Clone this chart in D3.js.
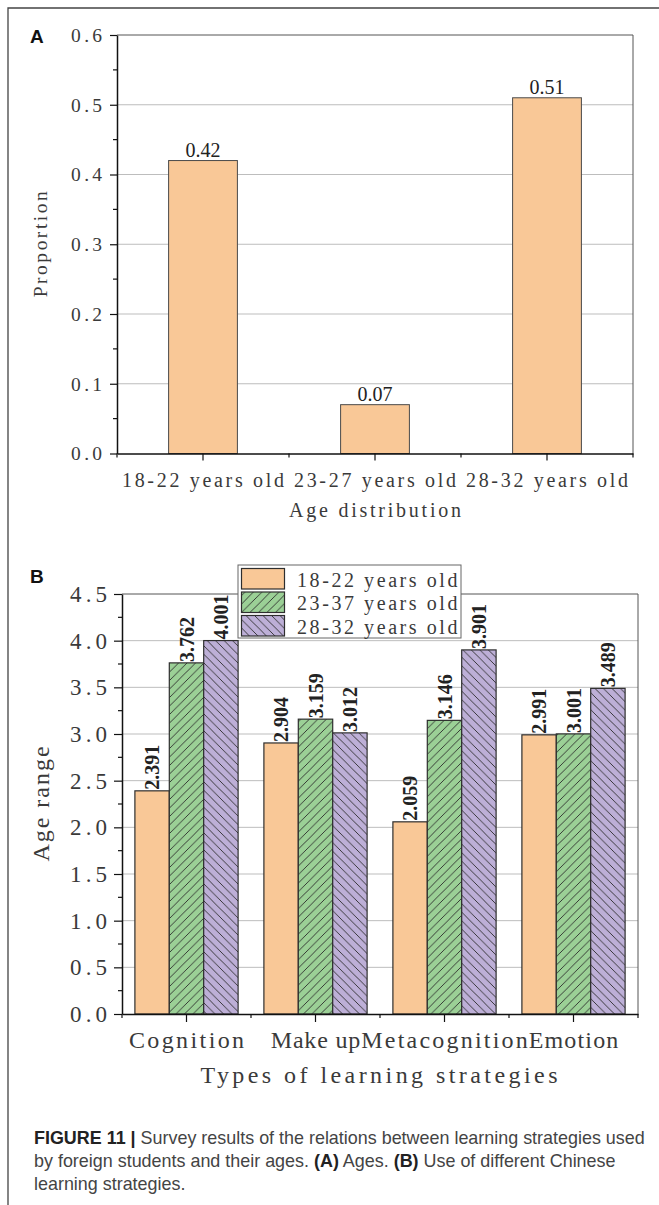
<!DOCTYPE html>
<html>
<head>
<meta charset="utf-8">
<script src="https://cdn.jsdelivr.net/npm/d3@7"></script>
<style>
  html, body { margin: 0; padding: 0; background: #fff; }
  svg { display: block; }
</style>
</head>
<body>
<svg id="chart" width="659" height="1205"></svg>
<script>
// ---------- Data ----------
const ageCategories = ["18-22 years old", "23-27 years old", "28-32 years old"];
const ageValues = [0.42, 0.07, 0.51];
const ageTickValues = [0, 0.1, 0.2, 0.3, 0.4, 0.5, 0.6];

const strategies = ["Cognition", "Make up", "Metacognition", "Emotion"];
const seriesNames = ["18-22 years old", "23-37 years old", "28-32 years old"];
const series1822 = [2.391, 2.904, 2.059, 2.991];
const series2337 = [3.762, 3.159, 3.146, 3.001];
const series2832 = [4.001, 3.012, 3.901, 3.489];
const strategyTickValues = [0, 0.5, 1, 1.5, 2, 2.5, 3, 3.5, 4, 4.5];

const captionLines = [
  [["FIGURE 11 | ", true], ["Survey results of the relations between learning strategies used", false]],
  [["by foreign students and their ages. ", false], ["(A)", true], [" Ages. ", false], ["(B)", true], [" Use of different Chinese", false]],
  [["learning strategies.", false]]
];

// ---------- Styles ----------
const SERIF = "'Liberation Serif', 'DejaVu Serif', serif";
const SANS = "'Liberation Sans', Arial, sans-serif";
const cOrange = "#F9C897", cGreen = "#9BD096", cPurple = "#BDAFD7";
const gridCol = "#BDBDBD", frameCol = "#555", txtCol = "#3a3a3a";

// SimSun-like fixed pitch rendering with a serif face
function pitched(sel, size, pitch) {
  sel.attr("font-family", SERIF).attr("font-size", size).attr("fill", txtCol)
    .each(function () {
      const n = this.textContent.length;
      d3.select(this).attr("textLength", n * pitch).attr("lengthAdjust", "spacing");
    });
}

const svg = d3.select("#chart");
const defs = svg.append("defs");

function hatch(id, fill, dir) {
  const s = 8.5;
  const p = defs.append("pattern").attr("id", id)
    .attr("patternUnits", "userSpaceOnUse").attr("width", s).attr("height", s);
  p.append("rect").attr("width", s).attr("height", s).attr("fill", fill);
  const d = dir > 0
    ? `M-2,${s + 2} L${s + 2},-2 M-2,2 L2,-2 M${s - 2},${s + 2} L${s + 2},${s - 2}`
    : `M-2,-2 L${s + 2},${s + 2} M-2,${s - 2} L2,${s + 2} M${s - 2},-2 L${s + 2},2`;
  p.append("path").attr("d", d).attr("stroke", "#2b2b2b").attr("stroke-width", 0.9);
}
hatch("hG", cGreen, 1);
hatch("hP", cPurple, -1);
const seriesFill = [cOrange, "url(#hG)", "url(#hP)"];

// ---------- Outer frame ----------
svg.append("path").attr("d", "M8,1205 L8,8 L659,8")
  .attr("fill", "none").attr("stroke", "#444").attr("stroke-width", 1.3);

// =========== Panel A ===========
const aL = 117, aR = 633, aT = 35, aB = 453.5;
const xA = d3.scaleBand().domain(ageCategories).range([aL, aR]);
const yA = d3.scaleLinear().domain([0, 0.6]).range([aB, aT]);
const gA = svg.append("g");

gA.selectAll("line.grid").data(ageTickValues.filter(v => v > 0 && v < 0.6)).enter()
  .append("line").attr("x1", aL).attr("x2", aR)
  .attr("y1", d => yA(d)).attr("y2", d => yA(d))
  .attr("stroke", gridCol).attr("stroke-width", 1);
gA.append("path").attr("d", `M${aL},${yA(0.6)} L${aR},${yA(0.6)} L${aR},${aB}`)
  .attr("fill", "none").attr("stroke", frameCol).attr("stroke-width", 1);

const bwA = xA.bandwidth();
gA.selectAll("rect.bar").data(ageValues).enter().append("rect")
  .attr("x", (d, i) => xA(ageCategories[i]) + bwA * 0.3)
  .attr("width", bwA * 0.4)
  .attr("y", d => yA(d)).attr("height", d => aB - yA(d))
  .attr("fill", cOrange).attr("stroke", "#4a4a4a").attr("stroke-width", 1);
gA.selectAll("text.val").data(ageValues).enter().append("text")
  .attr("x", (d, i) => xA(ageCategories[i]) + bwA / 2)
  .attr("y", d => yA(d) - 4)
  .attr("text-anchor", "middle").attr("font-family", SERIF).attr("font-size", 20)
  .attr("fill", "#222").text(d => d.toFixed(2));

const yAxisA = d3.axisLeft(yA).tickValues(ageTickValues).tickFormat(d3.format(".1f")).tickSize(7).tickSizeOuter(0);
const gyA = gA.append("g").attr("transform", `translate(${aL},0)`).call(yAxisA);
gyA.select(".domain").attr("stroke", "#111").attr("stroke-width", 1.5);
gyA.selectAll(".tick line").attr("stroke", "#111").attr("stroke-width", 1.2);
gyA.selectAll(".tick text").call(pitched, 19.5, 10.3).attr("x", -15);
gA.selectAll("line.ymin").data(d3.range(0.05, 0.6, 0.1)).enter().append("line")
  .attr("x1", aL - 4).attr("x2", aL).attr("y1", d => yA(d)).attr("y2", d => yA(d))
  .attr("stroke", "#111").attr("stroke-width", 1.2);

const xAxisA = d3.axisBottom(xA).tickSize(7).tickSizeOuter(0);
const gxA = gA.append("g").attr("transform", `translate(0,${aB})`).call(xAxisA);
gxA.select(".domain").attr("stroke", "#111").attr("stroke-width", 1.5);
gxA.selectAll(".tick line").attr("stroke", "#111").attr("stroke-width", 1.2);
gxA.selectAll(".tick text").call(pitched, 20, 10.8).attr("y", 33).attr("dy", 0);
gA.selectAll("line.xmin").data(ageCategories.concat(["end"])).enter().append("line")
  .attr("x1", (d, i) => aL + i * xA.step()).attr("x2", (d, i) => aL + i * xA.step())
  .attr("y1", aB).attr("y2", aB + 4).attr("stroke", "#111").attr("stroke-width", 1.2);

gA.append("text").attr("x", (aL + aR) / 2).attr("y", 517).attr("text-anchor", "middle")
  .text("Age distribution").call(pitched, 20, 10.75);
gA.append("text").attr("transform", `translate(47,${(aT + aB) / 2}) rotate(-90)`).attr("text-anchor", "middle")
  .text("Proportion").call(pitched, 19.5, 10.6);
gA.append("text").attr("x", 30).attr("y", 43).attr("font-family", SANS).attr("font-weight", "bold")
  .attr("font-size", 19).attr("fill", "#111").text("A");

// =========== Panel B ===========
const bL = 122, bR = 638, bT = 594, bB = 1014;
const xB = d3.scaleBand().domain(strategies).range([bL, bR]);
const xSub = d3.scaleBand().domain(seriesNames).range([0, xB.bandwidth() * 0.8]);
const yB = d3.scaleLinear().domain([0, 4.5]).range([bB, bT]);
const gB = svg.append("g");

gB.selectAll("line.grid").data(strategyTickValues.filter(v => v > 0 && v < 4.5)).enter()
  .append("line").attr("x1", bL).attr("x2", bR)
  .attr("y1", d => yB(d)).attr("y2", d => yB(d))
  .attr("stroke", gridCol).attr("stroke-width", 1);
gB.append("path").attr("d", `M${bL},${yB(4.5)} L${bR},${yB(4.5)} L${bR},${bB}`)
  .attr("fill", "none").attr("stroke", frameCol).attr("stroke-width", 1);

const seriesData = [series1822, series2337, series2832];
const flat = [];
seriesData.forEach((arr, si) => arr.forEach((v, ci) => flat.push({ si, ci, v })));
const barX = d => xB(strategies[d.ci]) + xB.bandwidth() * 0.1 + xSub(seriesNames[d.si]);

gB.selectAll("rect.bar").data(flat).enter().append("rect")
  .attr("x", barX).attr("width", xSub.bandwidth())
  .attr("y", d => yB(d.v)).attr("height", d => bB - yB(d.v))
  .attr("fill", d => seriesFill[d.si]).attr("stroke", "#2e2e2e").attr("stroke-width", 1.2);

gB.selectAll("text.val").data(flat).enter().append("text")
  .attr("transform", d => `translate(${barX(d) + xSub.bandwidth() / 2 + 7},${yB(d.v) - 1}) rotate(-90)`)
  .attr("text-anchor", "start").attr("font-family", SERIF).attr("font-weight", "bold")
  .attr("font-size", 20).attr("fill", "#222").text(d => d.v.toFixed(3));

const yAxisB = d3.axisLeft(yB).tickValues(strategyTickValues).tickFormat(d3.format(".1f")).tickSize(8).tickSizeOuter(0);
const gyB = gB.append("g").attr("transform", `translate(${bL},0)`).call(yAxisB);
gyB.select(".domain").attr("stroke", "#111").attr("stroke-width", 1.5);
gyB.selectAll(".tick line").attr("stroke", "#111").attr("stroke-width", 1.2);
gyB.selectAll(".tick text").call(pitched, 23, 12.3).attr("x", -15);
gB.selectAll("line.ymin").data(d3.range(0.25, 4.5, 0.5)).enter().append("line")
  .attr("x1", bL - 4).attr("x2", bL).attr("y1", d => yB(d)).attr("y2", d => yB(d))
  .attr("stroke", "#111").attr("stroke-width", 1.2);

const xAxisB = d3.axisBottom(xB).tickSize(8).tickSizeOuter(0);
const gxB = gB.append("g").attr("transform", `translate(0,${bB})`).call(xAxisB);
gxB.select(".domain").attr("stroke", "#111").attr("stroke-width", 1.5);
gxB.selectAll(".tick line").attr("stroke", "#111").attr("stroke-width", 1.2);
gxB.selectAll(".tick text").call(pitched, 24, 12.8).attr("y", 34).attr("dy", 0);
gB.selectAll("line.xmin").data(strategies.concat(["end"])).enter().append("line")
  .attr("x1", (d, i) => bL + i * xB.step()).attr("x2", (d, i) => bL + i * xB.step())
  .attr("y1", bB).attr("y2", bB + 4).attr("stroke", "#111").attr("stroke-width", 1.2);

gB.append("text").attr("x", 379).attr("y", 1083).attr("text-anchor", "middle")
  .text("Types of learning strategies").call(pitched, 24, 12.75);
gB.append("text").attr("transform", `translate(49,${(bT + bB) / 2}) rotate(-90)`).attr("text-anchor", "middle")
  .text("Age range").call(pitched, 24, 12.8);
gB.append("text").attr("x", 30).attr("y", 583).attr("font-family", SANS).attr("font-weight", "bold")
  .attr("font-size", 19).attr("fill", "#111").text("B");

// legend
const lg = gB.append("g").attr("transform", "translate(238,565)");
lg.append("rect").attr("width", 223).attr("height", 73).attr("fill", "#fff")
  .attr("stroke", "#666").attr("stroke-width", 1);
lg.selectAll("rect.sw").data(seriesNames).enter().append("rect")
  .attr("x", 3.5).attr("y", (d, i) => 3.5 + i * 23.5).attr("width", 43).attr("height", 20.5)
  .attr("fill", (d, i) => seriesFill[i]).attr("stroke", "#2e2e2e").attr("stroke-width", 1.2);
lg.selectAll("text.lt").data(seriesNames).enter().append("text")
  .attr("x", 59).attr("y", (d, i) => 21.5 + i * 23.5)
  .text(d => d).call(pitched, 20, 10.7);

// ---------- Caption ----------
const capX = 34, capW1 = 611;
const capTexts = captionLines.map((parts, li) => {
  const t = svg.append("text").attr("x", capX).attr("y", 1144 + li * 22.8)
    .attr("font-family", SANS).attr("font-size", 15.5).attr("fill", "#444");
  parts.forEach(([s, b]) => {
    t.append("tspan").attr("font-weight", b ? "bold" : "normal").attr("fill", b ? "#222" : "#444").text(s);
  });
  return t;
});
const natural = capTexts[0].node().getComputedTextLength();
const fs = 15.5 * capW1 / natural;
capTexts.forEach(t => t.attr("font-size", fs));
</script>
</body>
</html>
